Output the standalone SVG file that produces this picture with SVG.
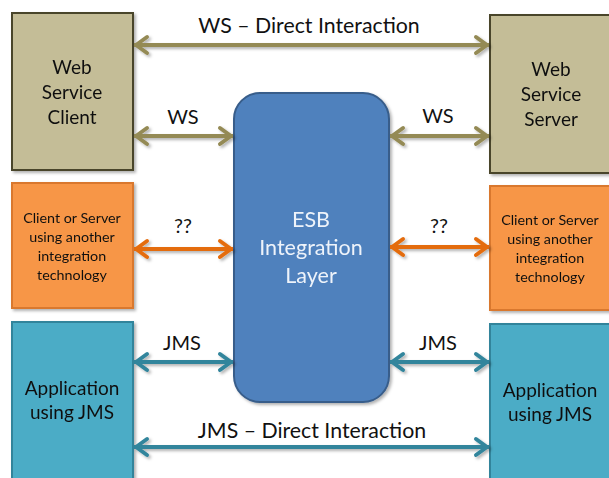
<svg xmlns="http://www.w3.org/2000/svg" width="609" height="478" viewBox="0 0 609 478">
  <style>
    .lbl { font-family: Lato, "Open Sans", "Liberation Sans", sans-serif; fill: #111; text-anchor: middle; }
    .big { font-size: 19px; }
    .conlbl { font-size: 20px; }
    .long { font-size: 21.3px; }
    .small { font-size: 14.3px; }
    .ws { fill: #c4bd97; stroke: #4a452a; stroke-width: 2; }
    .other { fill: #f79646; stroke: #d9782f; stroke-width: 2; }
    .jms { fill: #4bacc6; stroke: #31849b; stroke-width: 2; }
    .esb { fill: #4f81bd; stroke: #385d8a; stroke-width: 2; }
    .esbtxt { fill: #eef3fa; font-size: 21.5px; }
    .conn { fill: none; stroke-width: 4; }
    .c-ws { stroke: #948a54; marker-start: url(#ah-ws); marker-end: url(#ah-ws); }
    .c-other { stroke: #e46c0a; marker-start: url(#ah-other); marker-end: url(#ah-other); }
    .c-jms { stroke: #31859c; marker-start: url(#ah-jms); marker-end: url(#ah-jms); }
  </style>
  <defs>
    <filter id="shadow" x="-20%" y="-20%" width="140%" height="140%">
      <feDropShadow dx="2" dy="2" stdDeviation="1.8" flood-color="#000" flood-opacity="0.3"/>
    </filter>
    <marker id="ah-ws" markerUnits="userSpaceOnUse" viewBox="-16 -10 18 20" refX="0" refY="0" markerWidth="18" markerHeight="20" orient="auto-start-reverse" overflow="visible">
      <path d="M -13 -8 L -2 0 L -13 8" fill="none" stroke="#948a54" stroke-width="4" stroke-linejoin="round" stroke-linecap="round"/>
    </marker>
    <marker id="ah-other" markerUnits="userSpaceOnUse" viewBox="-16 -10 18 20" refX="0" refY="0" markerWidth="18" markerHeight="20" orient="auto-start-reverse" overflow="visible">
      <path d="M -13 -8 L -2 0 L -13 8" fill="none" stroke="#e46c0a" stroke-width="4" stroke-linejoin="round" stroke-linecap="round"/>
    </marker>
    <marker id="ah-jms" markerUnits="userSpaceOnUse" viewBox="-16 -10 18 20" refX="0" refY="0" markerWidth="18" markerHeight="20" orient="auto-start-reverse" overflow="visible">
      <path d="M -13 -8 L -2 0 L -13 8" fill="none" stroke="#31859c" stroke-width="4" stroke-linejoin="round" stroke-linecap="round"/>
    </marker>
  </defs>

  <rect width="609" height="478" fill="#ffffff"/>

  <!-- ESB core -->
  <g id="esb" filter="url(#shadow)">
    <rect class="esb" x="234" y="93" width="155" height="309" rx="26" ry="26"/>
    <text class="lbl esbtxt" x="311" y="227">ESB</text>
    <text class="lbl esbtxt" x="311" y="255">Integration</text>
    <text class="lbl esbtxt" x="311" y="283">Layer</text>
  </g>

  <!-- Web service endpoints -->
  <g id="ws-client" filter="url(#shadow)">
    <rect class="ws" x="12" y="13" width="121" height="157"/>
    <text class="lbl big" x="72" y="74">Web</text>
    <text class="lbl big" x="72" y="99">Service</text>
    <text class="lbl big" x="72" y="124">Client</text>
  </g>
  <g id="ws-server" filter="url(#shadow)">
    <rect class="ws" x="490" y="15" width="130" height="158"/>
    <text class="lbl big" x="551" y="76">Web</text>
    <text class="lbl big" x="551" y="101">Service</text>
    <text class="lbl big" x="551" y="126">Server</text>
  </g>

  <!-- Other integration technology -->
  <g id="other-left" filter="url(#shadow)">
    <rect class="other" x="12" y="183" width="121" height="125"/>
    <text class="lbl small" x="72" y="223">Client or Server</text>
    <text class="lbl small" x="72" y="242">using another</text>
    <text class="lbl small" x="72" y="261">integration</text>
    <text class="lbl small" x="72" y="280">technology</text>
  </g>
  <g id="other-right" filter="url(#shadow)">
    <rect class="other" x="490" y="186" width="130" height="124"/>
    <text class="lbl small" x="550" y="225">Client or Server</text>
    <text class="lbl small" x="550" y="244">using another</text>
    <text class="lbl small" x="550" y="263">integration</text>
    <text class="lbl small" x="550" y="282">technology</text>
  </g>

  <!-- JMS applications -->
  <g id="jms-left" filter="url(#shadow)">
    <rect class="jms" x="12" y="322" width="121" height="170"/>
    <text class="lbl big" x="72" y="395">Application</text>
    <text class="lbl big" x="72" y="419">using JMS</text>
  </g>
  <g id="jms-right" filter="url(#shadow)">
    <rect class="jms" x="490" y="324" width="130" height="170"/>
    <text class="lbl big" x="550" y="397">Application</text>
    <text class="lbl big" x="550" y="421">using JMS</text>
  </g>

  <!-- Connectors -->
  <g id="connectors" filter="url(#shadow)">
    <path class="conn c-ws" d="M 134 45 H 489"/>
    <path class="conn c-ws" d="M 134 136 H 233"/>
    <path class="conn c-ws" d="M 390 136 H 489"/>
    <path class="conn c-other" d="M 134 249 H 233"/>
    <path class="conn c-other" d="M 390 247 H 489"/>
    <path class="conn c-jms" d="M 134 362 H 233"/>
    <path class="conn c-jms" d="M 390 362 H 489"/>
    <path class="conn c-jms" d="M 134 447 H 489"/>
  </g>

  <!-- Connector labels -->
  <g id="connector-labels">
    <text class="lbl long" x="309" y="33">WS – Direct Interaction</text>
    <text class="lbl conlbl" x="183" y="124">WS</text>
    <text class="lbl conlbl" x="438" y="123">WS</text>
    <text class="lbl conlbl" x="183" y="233">??</text>
    <text class="lbl conlbl" x="439" y="233">??</text>
    <text class="lbl conlbl" x="182" y="350">JMS</text>
    <text class="lbl conlbl" x="438" y="350">JMS</text>
    <text class="lbl long" x="312" y="438">JMS – Direct Interaction</text>
  </g>
</svg>
